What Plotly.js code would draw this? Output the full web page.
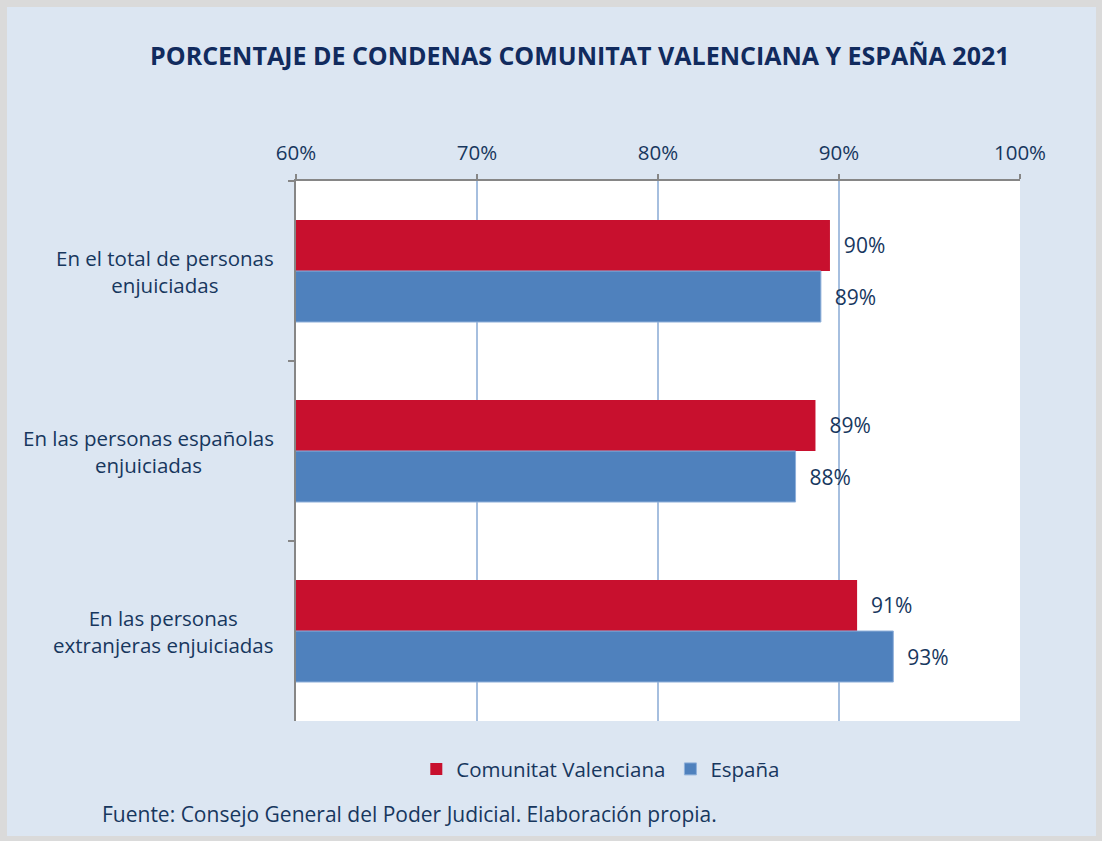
<!DOCTYPE html>
<html>
<head>
<meta charset="utf-8">
<script src="https://cdn.plot.ly/plotly-3.0.1.min.js"></script>
<style>
  html, body { margin: 0; padding: 0; background: #dadada; }
  #chart { position: absolute; left: 7px; top: 7px; width: 1089px; height: 829px; }
</style>
</head>
<body>
<div id="chart"></div>
<script>
// categories (top to bottom)
const categorias = [
  "En el total de personas<br>enjuiciadas",
  "En las personas españolas<br>enjuiciadas",
  "En las personas<br>extranjeras enjuiciadas"
];
const seriesNames = ["Comunitat Valenciana", "España"];
const valoresCV = [89.5, 88.7, 91.0];
const valoresEsp = [89.0, 87.6, 93.0];
const xTicks = [60, 70, 80, 90, 100];
const xTickText = xTicks.map(function (v) { return v + "%"; });

const textColor = "#17375e";
const baseFont = "Open Sans, Noto Sans, sans-serif";

let traceCV = {
  type: "bar",
  orientation: "h",
  name: seriesNames[0],
  y: categorias,
  x: valoresCV,
  marker: {color: "#c8102e"},
  texttemplate: "\u00a0\u00a0%{x:.0f}%",
  textposition: "outside",
  cliponaxis: false,
  textfont: {family: baseFont, size: 21, color: textColor},
  hoverinfo: "none"
};

let traceEsp = {
  type: "bar",
  orientation: "h",
  name: seriesNames[1],
  y: categorias,
  x: valoresEsp,
  marker: {color: "#4f81bd", line: {color: "#8fb0da", width: 1}},
  texttemplate: "\u00a0\u00a0%{x:.0f}%",
  textposition: "outside",
  cliponaxis: false,
  textfont: {family: baseFont, size: 21, color: textColor},
  hoverinfo: "none"
};

// category labels as centred annotations
let catLabels = categorias.map(function (c) {
  return {
    text: c,
    xref: "paper", yref: "y",
    x: 0, y: c,
    xanchor: "right", yanchor: "middle",
    xshift: -20,
    align: "center",
    showarrow: false,
    font: {family: baseFont, size: 20.5, color: textColor}
  };
});

let layout = {
  width: 1089,
  height: 829,
  paper_bgcolor: "#dce6f2",
  plot_bgcolor: "#ffffff",
  margin: {l: 289, r: 76, t: 174, b: 115},
  title: {
    text: "<b>PORCENTAJE DE CONDENAS COMUNITAT VALENCIANA Y ESPAÑA 2021</b>",
    xref: "container", yref: "container",
    x: 0.526, xanchor: "center",
    y: 1 - 49 / 829, yanchor: "middle",
    font: {family: baseFont, size: 25, color: "#112b5e"}
  },
  barmode: "group",
  bargap: 0.433,
  bargroupgap: 0,
  showlegend: true,
  legend: {
    orientation: "h",
    traceorder: "normal",
    x: 0.421, xanchor: "center",
    y: -0.089, yanchor: "middle",
    font: {family: baseFont, size: 20.5, color: textColor},
    itemwidth: 30,
    bgcolor: "rgba(0,0,0,0)"
  },
  xaxis: {
    side: "top",
    range: [60, 100],
    tickvals: xTicks,
    ticktext: xTickText,
    showgrid: true,
    gridcolor: "#a6bfdf",
    gridwidth: 1.5,
    zeroline: false,
    showline: true,
    linecolor: "#868686",
    linewidth: 2,
    ticks: "outside",
    ticklen: 5,
    tickcolor: "#868686",
    tickwidth: 2,
    ticklabelstandoff: 6,
    tickfont: {family: baseFont, size: 20.5, color: textColor},
    fixedrange: true
  },
  yaxis: {
    type: "category",
    autorange: "reversed",
    showticklabels: false,
    showgrid: false,
    zeroline: false,
    showline: true,
    linecolor: "#868686",
    linewidth: 2,
    ticks: "outside",
    tickson: "boundaries",
    ticklen: 6,
    tickcolor: "#868686",
    tickwidth: 2,
    fixedrange: true
  },
  annotations: catLabels.concat([{
    text: "Fuente: Consejo General del Poder Judicial. Elaboración propia.",
    xref: "paper", yref: "paper",
    x: -0.2707, y: -0.172,
    xanchor: "left", yanchor: "middle",
    showarrow: false,
    font: {family: baseFont, size: 21, color: textColor}
  }])
};

Plotly.newPlot("chart", [traceCV, traceEsp], layout, {displayModeBar: false, staticPlot: true});
</script>
</body>
</html>
